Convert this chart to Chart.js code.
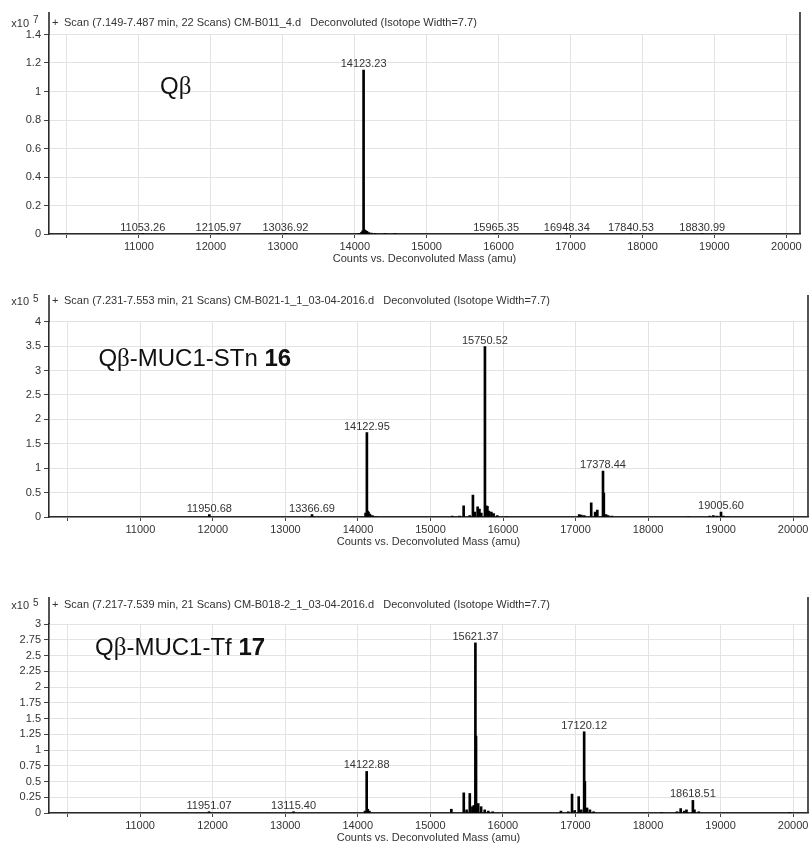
<!DOCTYPE html>
<html>
<head>
<meta charset="utf-8">
<script src="https://cdn.jsdelivr.net/npm/chart.js@4.4.1/dist/chart.umd.min.js"></script>
<style>
  html, body { margin: 0; padding: 0; background: #fff; }
  #wrap { position: relative; width: 812px; height: 846px; overflow: hidden; }
  canvas { position: absolute; left: 0; }
</style>
</head>
<body>
<div id="wrap">
  <canvas id="c1" width="812" height="272" style="top:0px"></canvas>
  <canvas id="c2" width="812" height="278" style="top:272px"></canvas>
  <canvas id="c3" width="812" height="276" style="top:570px"></canvas>
</div>
<script>
// ---- Deconvoluted spectra: mass (amu) and counts ----

// Qβ, counts in units of 10^7
const massQb = [11053.26, 12105.97, 13036.92, 14060, 14095, 14110, 14123.23, 14135, 14150, 14170, 14195, 14230, 14280, 14420, 14560, 15965.35, 16948.34, 17840.53, 18830.99];
const countsQb = [0.003, 0.003, 0.003, 0.004, 0.012, 0.022, 1.15, 0.030, 0.024, 0.018, 0.010, 0.006, 0.004, 0.003, 0.003, 0.002, 0.002, 0.002, 0.002];
const peakLabelsQb = ['11053.26', '12105.97', '13036.92', '14123.23', '15965.35', '16948.34', '17840.53', '18830.99'];

// Qβ-MUC1-STn 16, counts in units of 10^5
const massStn = [11950.68, 13366.69, 14105, 14122.95, 14132, 14145, 14165, 14200, 14250, 15300, 15400, 15457, 15540, 15585, 15610, 15650, 15675, 15700, 15750.52, 15768, 15785, 15805, 15840, 15870, 15920, 16050, 17050, 17080, 17120, 17216, 17270, 17300, 17378.44, 17390, 17420, 17450, 17500, 18560, 18850, 18900, 18950, 19005.60, 19040, 19100];
const countsStn = [0.05, 0.05, 0.08, 1.73, 0.12, 0.10, 0.06, 0.03, 0.01, 0.02, 0.02, 0.23, 0.03, 0.45, 0.10, 0.21, 0.16, 0.08, 3.49, 0.23, 0.22, 0.12, 0.10, 0.07, 0.03, 0.01, 0.05, 0.04, 0.03, 0.29, 0.10, 0.14, 0.94, 0.49, 0.05, 0.03, 0.02, 0.01, 0.02, 0.03, 0.02, 0.10, 0.02, 0.01];
const peakLabelsStn = ['11950.68', '13366.69', '14122.95', '15750.52', '17378.44', '19005.60'];

// Qβ-MUC1-Tf 17, counts in units of 10^5
const massTf = [11951.07, 13115.40, 14100, 14122.88, 14138, 14160, 15290, 15461, 15500, 15544, 15580, 15600, 15621.37, 15630, 15660, 15700, 15750, 15800, 15860, 16800, 16900, 16953, 16990, 17045, 17080, 17120.12, 17130, 17160, 17200, 17250, 18185, 18400, 18450, 18500, 18530, 18618.51, 18640, 18700, 19950];
const countsTf = [0.02, 0.02, 0.03, 0.66, 0.06, 0.03, 0.06, 0.32, 0.05, 0.31, 0.10, 0.12, 2.70, 1.22, 0.15, 0.10, 0.05, 0.03, 0.02, 0.03, 0.02, 0.30, 0.04, 0.26, 0.05, 1.29, 0.50, 0.08, 0.05, 0.02, 0.01, 0.02, 0.07, 0.03, 0.05, 0.20, 0.05, 0.02, 0.005];
const peakLabelsTf = ['11951.07', '13115.40', '14122.88', '15621.37', '17120.12', '18618.51'];

// Mass axis ticks; the first one carries no label
const massTicks = [10000, 11000, 12000, 13000, 14000, 15000, 16000, 17000, 18000, 19000, 20000];
const massTickLabels = ['', '11000', '12000', '13000', '14000', '15000', '16000', '17000', '18000', '19000', '20000'];
const xAxisTitle = 'Counts vs. Deconvoluted Mass (amu)';

const SANS = '"Liberation Sans", Arial, sans-serif';
const SERIF = '"Liberation Serif", "Times New Roman", serif';
const INK = '#333';

// Frame extensions, acquisition header and sample name
const framePlugin = {
  id: 'msFrame',
  afterDraw(chart, args, o) {
    const { ctx, chartArea: { left, right, top, bottom } } = chart;
    ctx.save();
    ctx.strokeStyle = '#2a2a2a';
    ctx.lineWidth = 1.6;
    ctx.beginPath();
    ctx.moveTo(left, top - o.rise); ctx.lineTo(left, top);
    ctx.moveTo(right, top - o.rise); ctx.lineTo(right, bottom);
    ctx.stroke();

    const hy = top - o.headerGap;
    ctx.fillStyle = INK;
    ctx.textBaseline = 'middle';
    ctx.font = '11px ' + SANS;
    ctx.textAlign = 'right';
    ctx.fillText('x10', left - 20, hy + 1);
    ctx.textAlign = 'left';
    ctx.font = '10px ' + SANS;
    ctx.fillText(o.exponent, left - 16, hy - 2);
    ctx.font = '11px ' + SANS;
    ctx.fillText('+', left + 3, hy);
    ctx.fillText(o.header, left + 15, hy);

    // sample name
    const xs = chart.scales.x, ys = chart.scales.y;
    let nx = xs.getPixelForValue(o.nameAt[0]);
    const ny = ys.getPixelForValue(o.nameAt[1]);
    ctx.fillStyle = '#111';
    ctx.textBaseline = 'middle';
    o.name.forEach(seg => {
      ctx.font = seg.f;
      ctx.fillText(seg.t, nx, ny);
      nx += ctx.measureText(seg.t).width;
    });
    ctx.restore();
  }
};

// Mass labels above their peaks
const peakLabelPlugin = {
  id: 'peakLabels',
  afterDatasetsDraw(chart, args, o) {
    const { ctx } = chart;
    const xs = chart.scales.x, ys = chart.scales.y;
    ctx.save();
    ctx.font = '11px ' + SANS;
    ctx.fillStyle = INK;
    ctx.textAlign = 'center';
    ctx.textBaseline = 'alphabetic';
    o.labels.forEach(txt => {
      const m = parseFloat(txt);
      const i = o.mass.findIndex(v => Math.abs(v - m) < 0.005);
      if (i < 0) return;
      const px = xs.getPixelForValue(o.mass[i]);
      const py = ys.getPixelForValue(o.counts[i]);
      ctx.fillText(txt, px, py - 3);
    });
    ctx.restore();
  }
};

function fmtY(v) { return String(+v.toFixed(2)); }

function spectrum(id, p) {
  return new Chart(document.getElementById(id), {
    type: 'bar',
    data: {
      datasets: [{
        data: p.mass.map((m, i) => ({ x: m, y: p.counts[i] })),
        backgroundColor: '#000',
        borderWidth: 0,
        barThickness: 2
      }]
    },
    options: {
      responsive: false,
      animation: false,
      events: [],
      layout: { padding: { top: p.padTop, right: p.padRight, bottom: p.padBottom, left: 0 } },
      plugins: {
        legend: { display: false },
        tooltip: { enabled: false },
        msFrame: { rise: p.rise, headerGap: p.headerGap, exponent: p.exponent, header: p.header, name: p.name, nameAt: p.nameAt },
        peakLabels: { labels: p.labels, mass: p.mass, counts: p.counts }
      },
      scales: {
        x: {
          type: 'linear',
          min: p.xMin, max: p.xMax,
          offset: false,
          afterBuildTicks: s => { s.ticks = massTicks.map(v => ({ value: v })); },
          afterFit: s => { s.height = 31.6; },
          ticks: {
            autoSkip: false, maxRotation: 0,
            padding: 2, color: INK, font: { family: SANS, size: 11 },
            callback: (v, i) => massTickLabels[massTicks.indexOf(v)] ?? ''
          },
          grid: { offset: false, color: '#e3e3e3', lineWidth: 1, tickLength: 4, tickColor: '#444' },
          border: { color: '#2a2a2a', width: 1.6 },
          title: { display: true, text: xAxisTitle, color: INK, font: { family: SANS, size: 11 }, padding: 0 }
        },
        y: {
          min: 0, max: p.yMax,
          afterFit: s => { s.width = 49; },
          ticks: { stepSize: p.yStep, autoSkip: false, padding: 3, color: INK, font: { family: SANS, size: 11 }, callback: fmtY },
          grid: { color: '#e3e3e3', lineWidth: 1, tickLength: 5, tickColor: '#444' },
          border: { color: '#2a2a2a', width: 1.6 }
        }
      }
    },
    plugins: [framePlugin, peakLabelPlugin]
  });
}

const NAME_FONT = '24px ' + SANS;
const NAME_BETA = '25px ' + SERIF;
const NAME_BOLD = 'bold 24px ' + SANS;

spectrum('c1', {
  mass: massQb, counts: countsQb, labels: peakLabelsQb,
  padTop: 34.5, padBottom: 6.4, padRight: 12,
  xMin: 9750, xMax: 20190, yMax: 1.4, yStep: 0.2,
  rise: 22.5, headerGap: 12, exponent: '7',
  header: 'Scan (7.149-7.487 min, 22 Scans) CM-B011_4.d   Deconvoluted (Isotope Width=7.7)',
  name: [{ t: 'Q', f: NAME_FONT }, { t: 'β', f: NAME_BETA }],
  nameAt: [11294, 1.03]
});

spectrum('c2', {
  mass: massStn, counts: countsStn, labels: peakLabelsStn,
  padTop: 49.7, padBottom: 1.4, padRight: 4,
  xMin: 9740, xMax: 20205, yMax: 4, yStep: 0.5,
  rise: 26.7, headerGap: 20.7, exponent: '5',
  header: 'Scan (7.231-7.553 min, 21 Scans) CM-B021-1_1_03-04-2016.d   Deconvoluted (Isotope Width=7.7)',
  name: [{ t: 'Q', f: NAME_FONT }, { t: 'β', f: NAME_BETA }, { t: '-MUC1-STn ', f: NAME_FONT }, { t: '16', f: NAME_BOLD }],
  nameAt: [10421, 3.22]
});

spectrum('c3', {
  mass: massTf, counts: countsTf, labels: peakLabelsTf,
  padTop: 54, padBottom: 1.4, padRight: 4,
  xMin: 9745, xMax: 20205, yMax: 3, yStep: 0.25,
  rise: 27, headerGap: 19, exponent: '5',
  header: 'Scan (7.217-7.539 min, 21 Scans) CM-B018-2_1_03-04-2016.d   Deconvoluted (Isotope Width=7.7)',
  name: [{ t: 'Q', f: NAME_FONT }, { t: 'β', f: NAME_BETA }, { t: '-MUC1-Tf ', f: NAME_FONT }, { t: '17', f: NAME_BOLD }],
  nameAt: [10379, 2.62]
});
</script>
</body>
</html>
